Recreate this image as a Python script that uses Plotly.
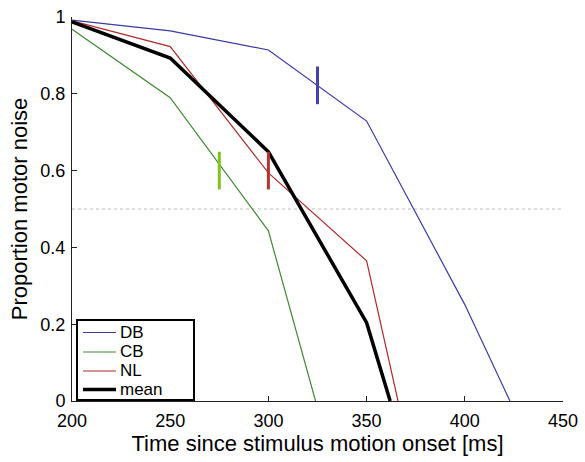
import plotly.graph_objects as go

# ---- data ----
time_db = [200, 250, 300, 350, 400, 423]
db = [0.992, 0.964, 0.914, 0.729, 0.251, 0.0]

time_cb = [200, 250, 300, 324]
cb = [0.968, 0.790, 0.443, 0.0]

time_nl = [200, 250, 300, 350, 366]
nl = [0.990, 0.923, 0.594, 0.365, 0.0]

time_mean = [200, 250, 300, 350, 362]
mean = [0.987, 0.893, 0.649, 0.204, 0.0]

thresh_names = ["DB", "CB", "NL"]
thresh_x = [325, 275, 300]
thresh_ylo = [0.773, 0.551, 0.551]
thresh_yhi = [0.871, 0.649, 0.649]

criterion = 0.5
x_ticks = [200, 250, 300, 350, 400, 450]
y_ticks = [0, 0.2, 0.4, 0.6, 0.8, 1]
y_ticklabels = ["0", "0.2", "0.4", "0.6", "0.8", "1"]

legend_names = ["DB", "CB", "NL", "mean"]

# ---- styles ----
col_db = "#3a3aa6"
col_cb = "#3d8a31"
col_nl = "#b02a2a"
thresh_cols = ["#4343aa", "#7fc31c", "#b43434"]
legend_cols = [col_db, col_cb, col_nl, "black"]
legend_widths = [1.2, 1.2, 1.2, 3.5]

FONT = "Liberation Sans, Arial, Helvetica, sans-serif"

# plot-area geometry in pixels (for placing the legend box)
W, H = 585, 462
L, R, T, B = 72, 22, 17, 61
pw, ph = W - L - R, H - T - B


def px_x(p):
    return (p - L) / pw


def px_y(p):
    return (H - B - p) / ph


fig = go.Figure()

# dotted criterion line
fig.add_trace(go.Scatter(x=[x_ticks[0], x_ticks[-1]], y=[criterion, criterion], mode="lines",
                         line=dict(color="#bdbdbd", width=1, dash="dot"),
                         showlegend=False, hoverinfo="skip"))

for name, xs, ys, c, w in zip(legend_names, [time_db, time_cb, time_nl, time_mean],
                              [db, cb, nl, mean], legend_cols, legend_widths):
    fig.add_trace(go.Scatter(x=xs, y=ys, mode="lines", name=name,
                             line=dict(color=c, width=w), showlegend=False))

for name, xv, lo, hi, c in zip(thresh_names, thresh_x, thresh_ylo, thresh_yhi, thresh_cols):
    fig.add_trace(go.Scatter(x=[xv, xv], y=[lo, hi], mode="lines",
                             line=dict(color=c, width=3),
                             showlegend=False, hoverinfo="skip"))

# legend box (manual, to match compact spacing)
shapes = [dict(type="rect", xref="paper", yref="paper",
               x0=px_x(77), x1=px_x(194), y0=px_y(400), y1=px_y(320),
               line=dict(color="black", width=2), fillcolor="white", layer="above")]
annotations = []
row_y = [332.5, 352, 371, 389.5]
for name, c, w, ry in zip(legend_names, legend_cols, legend_widths, row_y):
    shapes.append(dict(type="line", xref="paper", yref="paper",
                       x0=px_x(83), x1=px_x(116), y0=px_y(ry), y1=px_y(ry),
                       line=dict(color=c, width=w), layer="above"))
    annotations.append(dict(xref="paper", yref="paper", x=px_x(119), y=px_y(ry - 0.5),
                            text=name, showarrow=False, xanchor="left", yanchor="middle",
                            height=17, borderpad=0,
                            font=dict(family=FONT, size=17, color="black")))

fig.update_layout(
    width=W, height=H,
    margin=dict(l=L, r=R, t=T, b=B),
    paper_bgcolor="white", plot_bgcolor="white",
    font=dict(family=FONT, size=18, color="black"),
    showlegend=False,
    shapes=shapes,
    annotations=annotations,
    xaxis=dict(range=[200, 450], tickvals=x_ticks, ticks="inside", ticklen=5,
               showline=True, linecolor="#222", linewidth=1, mirror=False,
               showgrid=False, zeroline=False, tickcolor="#222",
               ticklabelstandoff=3, automargin=False,
               title=dict(text="Time since stimulus motion onset [ms]", standoff=3)),
    yaxis=dict(range=[0, 1], tickvals=y_ticks, ticktext=y_ticklabels, ticks="inside", ticklen=5,
               showline=True, linecolor="#222", linewidth=1, mirror=False,
               showgrid=False, zeroline=False, tickcolor="#222",
               ticklabelstandoff=2, automargin=False,
               title=dict(text="Proportion motor noise", standoff=6)),
)

fig.write_html("out.html")
